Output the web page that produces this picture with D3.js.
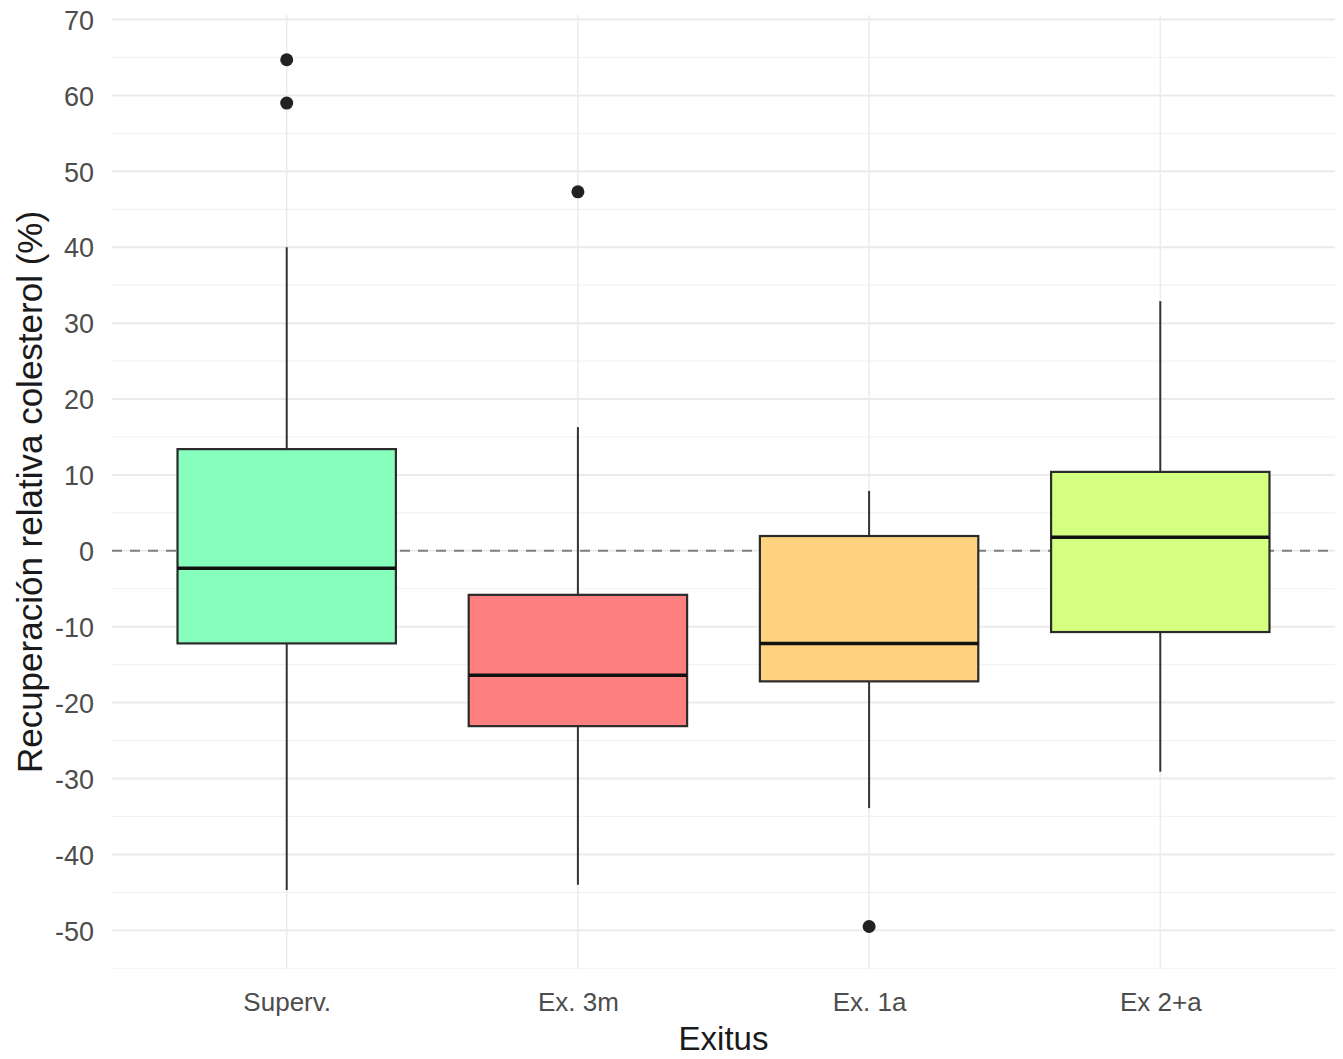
<!DOCTYPE html>
<html lang="es">
<head>
    <meta charset="UTF-8">
    <title>Recuperación relativa colesterol</title>
    <script src="https://cdn.jsdelivr.net/npm/d3@7"></script>
    <style>
        body { margin: 0; background: #fff; }
        svg { display: block; font-family: "Liberation Sans", Arial, sans-serif; }
        .grid-major line { stroke: #EBEBEB; stroke-width: 2; }
        .grid-minor line { stroke: #F2F2F2; stroke-width: 1.2; }
        .grid-x line { stroke: #EBEBEB; stroke-width: 1.5; }
        .axis text { fill: #4D4D4D; font-size: 26px; }
        .axis.y-axis text { font-size: 27px; }
        .axis path, .axis line { display: none; }
        .title { fill: #1A1A1A; font-size: 33px; }
        .title.y-title { font-size: 35px; }
    </style>
</head>
<body>
<svg width="1343" height="1059"></svg>
<script>
    var categories = ['Superv.', 'Ex. 3m', 'Ex. 1a', 'Ex 2+a'];
    var colors = ['#86FFBC', '#FF8080', '#FFD280', '#D5FF80'];
    var whiskerLow = [-44.7, -44.0, -33.9, -29.1];
    var q1 = [-12.2, -23.1, -17.2, -10.7];
    var median = [-2.3, -16.4, -12.2, 1.8];
    var q3 = [13.4, -5.8, 1.95, 10.4];
    var whiskerHigh = [40.0, 16.3, 7.9, 32.9];
    var outliers = [[64.7, 59.0], [47.3], [-49.5], []];
    var yTicks = [-50, -40, -30, -20, -10, 0, 10, 20, 30, 40, 50, 60, 70];
    var yMinor = [-55, -45, -35, -25, -15, -5, 5, 15, 25, 35, 45, 55, 65];

    var svg = d3.select('svg'),
        panel = { left: 112, right: 1335, top: 15, bottom: 969 };

    var x = d3.scalePoint().domain(categories).range([panel.left, panel.right]).padding(0.6);
    var y = d3.scaleLinear().domain([-55.1, 70.6]).range([panel.bottom, panel.top]);
    var boxW = x.step() * 0.75;

    // grid
    svg.append('g').classed('grid-minor', true)
        .selectAll('line').data(yMinor).enter().append('line')
        .attr('x1', panel.left).attr('x2', panel.right)
        .attr('y1', function(d) { return y(d); })
        .attr('y2', function(d) { return y(d); });

    svg.append('g').classed('grid-major', true)
        .selectAll('line').data(yTicks).enter().append('line')
        .attr('x1', panel.left).attr('x2', panel.right)
        .attr('y1', function(d) { return y(d); })
        .attr('y2', function(d) { return y(d); });

    svg.append('g').classed('grid-x', true)
        .selectAll('line').data(categories).enter().append('line')
        .attr('y1', panel.top).attr('y2', panel.bottom)
        .attr('x1', function(d) { return x(d); })
        .attr('x2', function(d) { return x(d); });

    // zero reference
    svg.append('line')
        .attr('x1', panel.left).attr('x2', panel.right)
        .attr('y1', y(0)).attr('y2', y(0))
        .style('stroke', '#808080')
        .style('stroke-width', 2)
        .style('stroke-dasharray', '10,8');

    // axes
    svg.append('g').classed('axis y-axis', true)
        .attr('transform', 'translate(' + [panel.left - 8, 0] + ')')
        .call(d3.axisLeft(y).tickValues(yTicks).tickSize(0).tickPadding(10)
            .tickFormat(function(d) { return String(d); }))
        .selectAll('text').attr('dy', '0.36em');

    svg.append('g').classed('axis', true)
        .attr('transform', 'translate(' + [0, 1011] + ')')
        .call(d3.axisBottom(x).tickSize(0).tickPadding(0))
        .selectAll('text').attr('dy', 0).attr('y', 0);

    // boxes
    var box = svg.append('g').selectAll('g').data(categories).enter().append('g');

    box.append('line')
        .attr('x1', function(d) { return x(d); })
        .attr('x2', function(d) { return x(d); })
        .attr('y1', function(d, i) { return y(whiskerHigh[i]); })
        .attr('y2', function(d, i) { return y(q3[i]); })
        .style('stroke', '#333').style('stroke-width', 2);

    box.append('line')
        .attr('x1', function(d) { return x(d); })
        .attr('x2', function(d) { return x(d); })
        .attr('y1', function(d, i) { return y(q1[i]); })
        .attr('y2', function(d, i) { return y(whiskerLow[i]); })
        .style('stroke', '#333').style('stroke-width', 2);

    box.append('rect')
        .attr('x', function(d) { return x(d) - boxW / 2; })
        .attr('width', boxW)
        .attr('y', function(d, i) { return y(q3[i]); })
        .attr('height', function(d, i) { return y(q1[i]) - y(q3[i]); })
        .style('fill', function(d, i) { return colors[i]; })
        .style('stroke', '#2b2b2b').style('stroke-width', 2.2);

    box.append('line')
        .attr('x1', function(d) { return x(d) - boxW / 2; })
        .attr('x2', function(d) { return x(d) + boxW / 2; })
        .attr('y1', function(d, i) { return y(median[i]); })
        .attr('y2', function(d, i) { return y(median[i]); })
        .style('stroke', '#111').style('stroke-width', 3.5);

    box.each(function(d, i) {
        d3.select(this).selectAll('circle').data(outliers[i]).enter().append('circle')
            .attr('cx', x(d))
            .attr('cy', function(v) { return y(v); })
            .attr('r', 6.5)
            .style('fill', '#222');
    });

    // titles
    svg.append('text').classed('title', true)
        .attr('x', (panel.left + panel.right) / 2).attr('y', 1050)
        .attr('text-anchor', 'middle')
        .text('Exitus');

    svg.append('text').classed('title y-title', true)
        .attr('transform', 'translate(' + [42, (panel.top + panel.bottom) / 2] + ') rotate(-90)')
        .attr('text-anchor', 'middle')
        .text('Recuperación relativa colesterol (%)');
</script>
</body>
</html>
